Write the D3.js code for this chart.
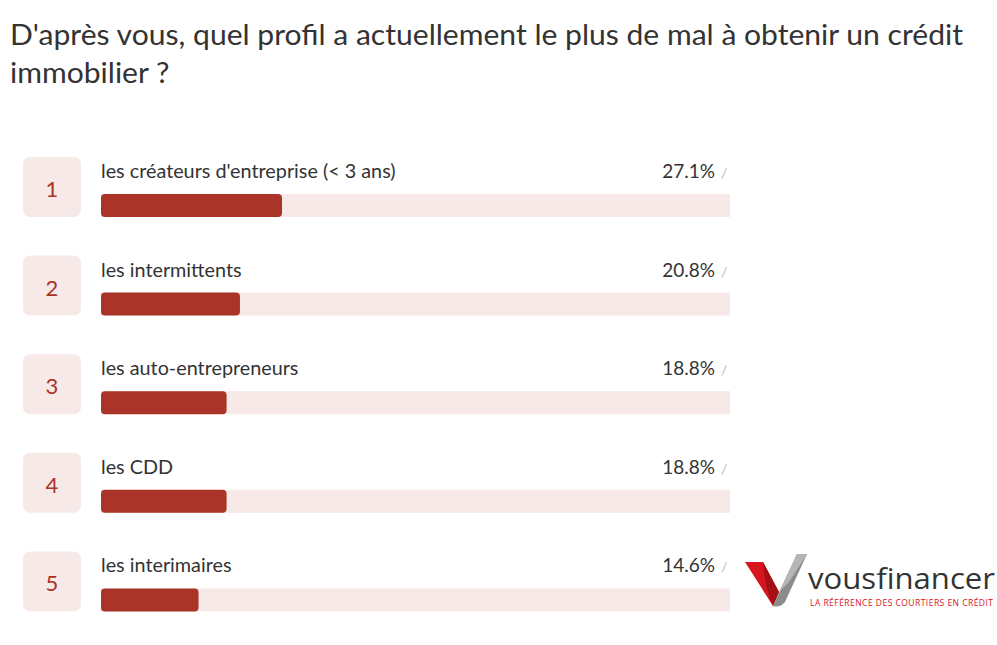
<!DOCTYPE html>
<html>
<head>
<meta charset="utf-8">
<script src="https://cdn.jsdelivr.net/npm/d3@7"></script>
<style>
  body { margin: 0; background: #fff; }
  svg { display: block; font-family: "Source Sans Pro", Lato, "Noto Sans", sans-serif; }
</style>
</head>
<body>
<div id="chart"></div>
<script>
const width = 997;
const height = 645;

const titleLines = ["D'après vous, quel profil a actuellement le plus de mal à obtenir un crédit", "immobilier ?"];
const ranks = [1, 2, 3, 4, 5];
const labels = ["les créateurs d'entreprise (< 3 ans)", "les intermittents", "les auto-entrepreneurs", "les CDD", "les interimaires"];
const values = [27.1, 20.8, 18.8, 18.8, 14.6];

const barColor = "#aa3427";
const trackColor = "#f7e9e8";
const textColor = "#333";

const svg = d3.select("#chart")
  .append("svg")
  .attr("width", width)
  .attr("height", height);

// title, stretched to the width of the original
let title = svg.append("g")
  .selectAll("text")
  .data(titleLines)
  .join("text")
    .attr("x", 10)
    .attr("y", (d, i) => 45 + i * 38)
    .attr("font-size", 28)
    .attr("fill", textColor)
    .text(d => d);

let firstLen = title.nodes()[0].getComputedTextLength();
let stretch = 953 / firstLen;
title.each(function() {
  let w = this.getComputedTextLength();
  d3.select(this)
    .attr("textLength", w * stretch)
    .attr("lengthAdjust", "spacingAndGlyphs");
});

// rows
let yRow = d3.scaleBand().domain(ranks).range([157, 157 + 98.6 * 5]).paddingInner(0);
let xBar = d3.scaleLinear().domain([0, 100]).range([101, 769]);

svg.append("defs").append("clipPath")
  .attr("id", "trackclip")
  .append("rect")
    .attr("x", 0).attr("y", 0)
    .attr("width", 730).attr("height", height);

const row = svg.append("g")
  .selectAll("g")
  .data(ranks)
  .join("g")
    .attr("transform", d => "translate(0," + yRow(d) + ")");

row.append("rect")
  .attr("x", 23)
  .attr("y", 0)
  .attr("width", 58)
  .attr("height", 60)
  .attr("rx", 7)
  .attr("fill", trackColor);

row.append("text")
  .attr("x", 52)
  .attr("y", 40)
  .attr("text-anchor", "middle")
  .attr("font-size", 22)
  .attr("fill", barColor)
  .text(d => d);

row.append("text")
  .attr("x", 101)
  .attr("y", 21)
  .attr("font-size", 19.8)
  .attr("fill", textColor)
  .text((d, i) => labels[i]);

row.append("rect")
  .attr("clip-path", "url(#trackclip)")
  .attr("x", xBar(0))
  .attr("y", 37)
  .attr("width", xBar(100) - xBar(0))
  .attr("height", 23)
  .attr("fill", trackColor);

row.append("rect")
  .attr("x", xBar(0))
  .attr("y", 37)
  .attr("width", (d, i) => xBar(values[i]) - xBar(0))
  .attr("height", 23)
  .attr("rx", 4)
  .attr("fill", barColor);

row.append("text")
  .attr("x", 715)
  .attr("y", 21)
  .attr("text-anchor", "end")
  .attr("font-size", 19)
  .attr("fill", textColor)
  .text((d, i) => d3.format(".1f")(values[i]) + "%");

row.append("text")
  .attr("x", 721)
  .attr("y", 21)
  .attr("font-size", 14)
  .attr("fill", "#bbb")
  .text("/");

// logo
const logo = svg.append("g").attr("transform", "translate(745,552)");
logo.append("path")
  .attr("d", "M0,10 L18,10 L34,40 L28,54 Z")
  .attr("fill", "#d8141e");
logo.append("path")
  .attr("d", "M18,10 L34,40 L28,54 Q20,38 18,10 Z")
  .attr("fill", "#a50f16");
logo.append("path")
  .attr("d", "M28,54 L52,2 L62,2 L40,50 Q35,56 28,54 Z")
  .attr("fill", "#8c8c8c");
logo.append("path")
  .attr("d", "M34,40 L52,2 L62,2 L44,30 Z")
  .attr("fill", "#b5b5b5");
logo.append("text")
  .attr("x", 63)
  .attr("y", 37)
  .attr("font-size", 30)
  .attr("fill", "#333")
  .attr("font-family", "'Open Sans', sans-serif")
  .attr("textLength", 187)
  .attr("lengthAdjust", "spacingAndGlyphs")
  .text("vousfinancer");
logo.append("text")
  .attr("x", 65)
  .attr("y", 54)
  .attr("font-size", 8.5)
  .attr("fill", "#d8141e")
  .attr("font-family", "'Open Sans', sans-serif")
  .attr("textLength", 183)
  .attr("lengthAdjust", "spacing")
  .text("LA RÉFÉRENCE DES COURTIERS EN CRÉDIT");
</script>
</body>
</html>
